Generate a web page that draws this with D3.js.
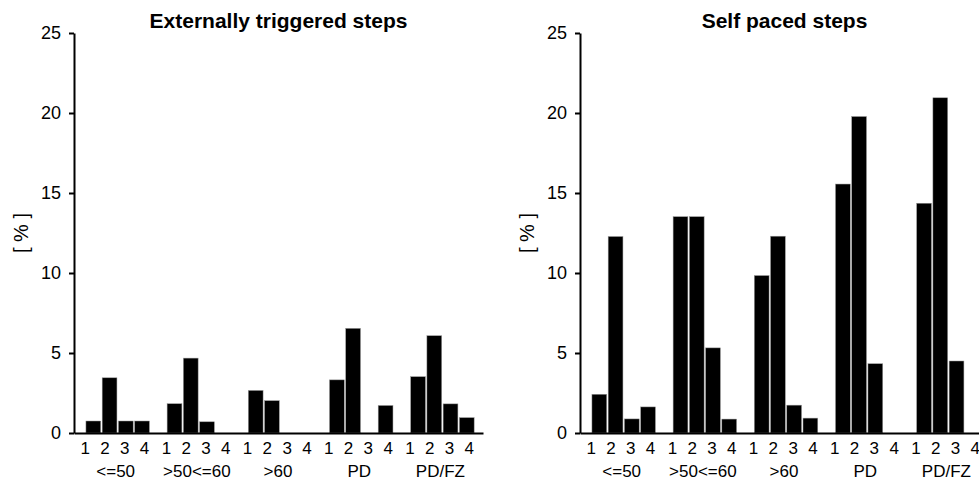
<!DOCTYPE html>
<html>
<head>
<meta charset="utf-8">
<script src="https://d3js.org/d3.v7.min.js"></script>
<style>
    body { margin: 0; background: #fff; }
    svg { display: block; font-family: "Liberation Sans", Arial, sans-serif; }
</style>
</head>
<body>
<svg width="979" height="482"></svg>
<script>
    // categories
    var groups = ['<=50', '>50<=60', '>60', 'PD', 'PD/FZ'];
    var stepLabels = ['1', '2', '3', '4'];
    var yTicks = [0, 5, 10, 15, 20, 25];

    // values in percent, one row per group, one entry per step
    var externalValues = [
        [0.75, 3.45, 0.75, 0.75],
        [1.83, 4.68, 0.70, 0],
        [2.66, 2.02, 0, 0],
        [3.32, 6.54, 0, 1.72],
        [3.52, 6.08, 1.82, 0.96]
    ];
    var selfPacedValues = [
        [2.42, 12.28, 0.88, 1.63],
        [13.52, 13.52, 5.32, 0.87],
        [9.84, 12.30, 1.74, 0.93],
        [15.56, 19.78, 4.33, 0],
        [14.36, 20.95, 4.50, 0]
    ];

    var panels = [
        {title: 'Externally triggered steps', values: externalValues, left: 74},
        {title: 'Self paced steps', values: selfPacedValues, left: 580}
    ];

    var svg = d3.select('svg');
    var plotTop = 33, plotBottom = 433, plotW = 409;
    var digitGap = 19.8; // step numbers are spread a bit wider than the bars

    var y = d3.scaleLinear().domain([0, 25]).range([plotBottom, plotTop]);

    panels.forEach(function(p) {
        // bar position: group g, step s -> g*5 + s + 1
        var rows = [];
        p.values.forEach(function(vals, g) {
            vals.forEach(function(v, s) {
                rows.push({pos: g * 5 + s + 1, group: g, s: s, step: stepLabels[s], value: v});
            });
        });

        var x = d3.scaleLinear()
            .domain([-0.19, 25])
            .range([p.left, p.left + plotW]);
        var bw = (x(1) - x(0)) * 0.91;

        var gp = svg.append('g');

        gp.selectAll('rect.bar')
            .data(rows)
            .enter()
            .append('rect')
            .classed('bar', true)
            .attr('x', function(d) { return x(d.pos) - bw / 2; })
            .attr('y', function(d) { return y(d.value); })
            .attr('width', bw)
            .attr('height', function(d) { return plotBottom - y(d.value); })
            .attr('fill', '#000')
            .attr('stroke', '#999')
            .attr('stroke-width', 0.5);

        // x baseline
        var xAxis = d3.axisBottom(x).tickValues([]).tickSizeOuter(0);
        var gx = gp.append('g')
            .attr('transform', 'translate(0,' + plotBottom + ')')
            .call(xAxis);
        gx.select('.domain').attr('stroke', '#000').attr('stroke-width', 2);

        // step numbers under each group
        gp.selectAll('text.step')
            .data(rows)
            .enter()
            .append('text')
            .classed('step', true)
            .attr('x', function(d) { return x(d.group * 5 + 2.5) - 2.8 + (d.s - 1.5) * digitGap; })
            .attr('y', 453.5)
            .attr('text-anchor', 'middle')
            .attr('font-size', 17)
            .text(function(d) { return d.step; });

        // group labels
        gp.selectAll('text.group')
            .data(groups)
            .enter()
            .append('text')
            .classed('group', true)
            .attr('x', function(d, i) { return x(i * 5 + 2.5) - 2; })
            .attr('y', 476.5)
            .attr('text-anchor', 'middle')
            .attr('font-size', 17)
            .text(function(d) { return d; });

        // y axis
        var yAxis = d3.axisLeft(y)
            .tickValues(yTicks)
            .tickSize(5)
            .tickSizeOuter(0)
            .tickPadding(8);
        var gy = gp.append('g')
            .attr('transform', 'translate(' + p.left + ',0)')
            .call(yAxis);
        gy.select('.domain').attr('stroke', '#000').attr('stroke-width', 2);
        gy.selectAll('.tick line').attr('stroke', '#000').attr('stroke-width', 2);
        gy.selectAll('text')
            .attr('font-size', 18)
            .attr('font-family', 'Liberation Sans, Arial, sans-serif')
            .attr('fill', '#000');

        // y label
        gp.append('text')
            .attr('transform', 'translate(' + (p.left - 46.5) + ',' + ((plotTop + plotBottom) / 2) + ') rotate(-90)')
            .attr('text-anchor', 'middle')
            .attr('font-size', 20)
            .style('white-space', 'pre')
            .text('[ % ]');

        // title
        gp.append('text')
            .attr('x', p.left + plotW / 2)
            .attr('y', 27.5)
            .attr('text-anchor', 'middle')
            .attr('font-size', 21)
            .attr('font-weight', 'bold')
            .text(p.title);
    });
</script>
</body>
</html>
